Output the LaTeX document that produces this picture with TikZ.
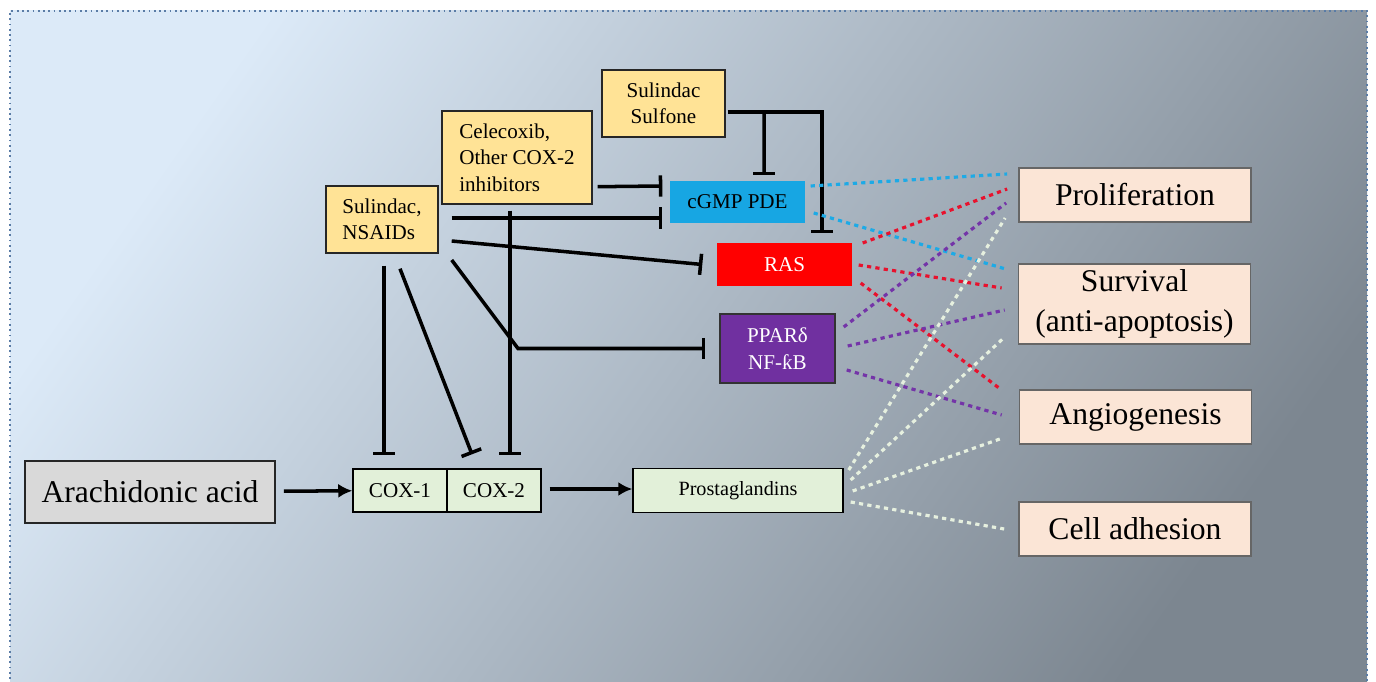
\documentclass[tikz,border=0pt]{standalone}
\usepackage{fontspec}
\setmainfont{Liberation Serif}
\usetikzlibrary{arrows.meta}
\usetikzlibrary{calc}
\definecolor{bgleft}{HTML}{DCEAF8}
\definecolor{bgmid}{HTML}{BAC7D4}
\definecolor{bgright}{HTML}{7C8690}
\definecolor{framecol}{HTML}{5A7CA6}
\definecolor{drugyellow}{HTML}{FFE396}
\definecolor{pdeblue}{HTML}{17A6E3}
\definecolor{rasred}{HTML}{FF0000}
\definecolor{pparpurple}{HTML}{7030A0}
\definecolor{fxpink}{HTML}{FBE5D6}
\definecolor{coxgreen}{HTML}{E2F0D9}
\definecolor{acidgray}{HTML}{D9D9D9}
\definecolor{dotblue}{HTML}{1DAAE6}
\definecolor{dotred}{HTML}{E8112D}
\definecolor{dotpurple}{HTML}{7434A8}
\definecolor{dotwhite}{HTML}{E6F0DF}

\begin{document}
\begin{tikzpicture}[x=0.02cm,y=-0.02cm,
  box/.style={draw,line width=0.8pt,inner sep=0pt,align=center,font=\fontsize{12}{15}\selectfont},
  drug/.style={box,fill=drugyellow,draw=black!85},
  bigbox/.style={box,font=\fontsize{18}{23}\selectfont},
  effect/.style={bigbox,fill=fxpink,draw=black!60,line width=1pt,minimum width=4.64cm},
  inh/.style={line width=2pt,-{Bar[width=12pt]}},
  act/.style={line width=2pt,-{Latex[length=8pt,width=8pt]}},
  fx/.style={line width=1.8pt,dash pattern=on 2.4pt off 2.4pt}]
\useasboundingbox (0,0) rectangle (1376,682);
\shade[left color=bgleft,middle color=bgmid,right color=bgright,shading angle=55] (10,11) rectangle (1367,700); %background
\draw[framecol,line width=1pt,dotted] (10,700) -- (10,11) -- (1367,11) -- (1367,700);

\node[drug,minimum width=2.46cm,minimum height=1.34cm] (sulf) at (663.5,103.5) {Sulindac\\Sulfone}; %drugs
\node[drug,align=left,minimum width=3cm,minimum height=1.86cm] (celec) at (517,157.5) {Celecoxib,\\Other COX-2\\inhibitors};
\node[drug,align=left,minimum width=2.24cm,minimum height=1.34cm] (nsaid) at (382,219.5) {Sulindac,\\NSAIDs};

\node[box,fill=pdeblue,draw=none,minimum width=2.7cm,minimum height=0.84cm] (pde) at (737.5,202) {cGMP PDE}; %targets
\node[box,fill=rasred,draw=none,text=white,minimum width=2.7cm,minimum height=0.86cm] (ras) at (784.5,264.5) {RAS};
\node[box,fill=pparpurple,draw=black!80,text=white,minimum width=2.3cm,minimum height=1.38cm] (ppar) at (777.5,348.5) {PPARδ\\NF-ƙB};

\node[effect,minimum height=1.08cm] (prolif) at (1135,195) {Proliferation}; %effects
\node[effect,minimum height=1.6cm] (surv) at (1134.5,304) {Survival\\(anti-apoptosis)};
\node[effect,minimum height=1.08cm] (angio) at (1135.5,417) {Angiogenesis};
\node[effect,minimum height=1.08cm] (adh) at (1135,529) {Cell adhesion};

\node[bigbox,fill=acidgray,draw=black!85,line width=1pt,minimum width=5cm,minimum height=1.24cm] (arach) at (150,492) {Arachidonic acid}; %pathway
\node[box,fill=coxgreen,minimum width=1.88cm,minimum height=0.86cm] (cox1) at (400,490.5) {COX-1};
\node[box,fill=coxgreen,minimum width=1.88cm,minimum height=0.86cm] (cox2) at (494,490.5) {COX-2};
\node[box,fill=coxgreen,minimum width=4.2cm,minimum height=0.88cm,font=\fontsize{11.5}{14}\selectfont] (prost) at (738,490.5) {Prostaglandins};

\draw[act,shorten <=4.5pt] (arach) -- (cox1);
\draw[act] ($(cox2.east)+(8,-1.5)$) -- ($(prost.west)+(0,-1.5)$);

\draw[inh] ($(celec.south east)+(5,-18)$) -- ($(pde.west)+(-7,-16)$); %inhibitions
\draw[inh] ($(nsaid.east)+(13,-1.5)$) -- ($(pde.west)+(-7,16)$);
\draw[inh] ($(nsaid.east)+(13,21.5)$) -- ($(ras.west)+(-14,0)$);
\coordinate (bend) at (518,348.5);
\draw[inh] ($(nsaid.east)+(13,40.5)$) -- (bend) -- ($(ppar.west)+(-14,0)$);
\draw[inh] ($(nsaid.south)+(2,12)$) -- ($(cox1.north)+(-16,-13)$);
\draw[inh] ($(nsaid.south)+(18,15)$) -- ($(cox2.north)+(-22,-14)$);
\draw[inh] ($(celec.south)+(-7,6)$) -- ($(cox2.north)+(16,-13)$);
\coordinate (sj) at (764,112);
\draw[inh] ($(sulf.east)+(2,8.5)$) -| ($(ras.north)+(37.5,-9)$);
\draw[inh] (sj) -- ($(pde.north)+(26.5,-5)$);

\draw[fx,dotblue] ($(pde.east)+(5,-16)$) -- ($(prolif.west)+(-11,-21)$); %effect links
\draw[fx,dotblue] ($(pde.east)+(8,11)$) -- ($(surv.west)+(-12,-35)$);
\draw[fx,dotred] ($(ras.east)+(10,-21.5)$) -- ($(prolif.west)+(-11,-6)$);
\draw[fx,dotred] ($(ras.east)+(6,0.5)$) -- ($(surv.west)+(-16,-16)$);
\draw[fx,dotred] ($(ras.east)+(8,18.5)$) -- ($(angio.west)+(-17,-27)$);
\draw[fx,dotpurple] ($(ppar.east)+(8,-21.5)$) -- ($(prolif.west)+(-12,8)$);
\draw[fx,dotpurple] ($(ppar.east)+(12,-2.5)$) -- ($(surv.west)+(-13,6)$);
\draw[fx,dotpurple] ($(ppar.east)+(11,21.5)$) -- ($(angio.west)+(-17,-2)$);
\draw[fx,dotwhite] ($(prost.east)+(5,-20.5)$) -- ($(prolif.west)+(-13,23)$);
\draw[fx,dotwhite] ($(prost.east)+(7,-10.5)$) -- ($(surv.west)+(-14,34)$);
\draw[fx,dotwhite] ($(prost.east)+(9,0.5)$) -- ($(angio.west)+(-16,21)$);
\draw[fx,dotwhite] ($(prost.east)+(7,11.5)$) -- ($(adh.west)+(-14,0)$);
\end{tikzpicture}
\end{document}
